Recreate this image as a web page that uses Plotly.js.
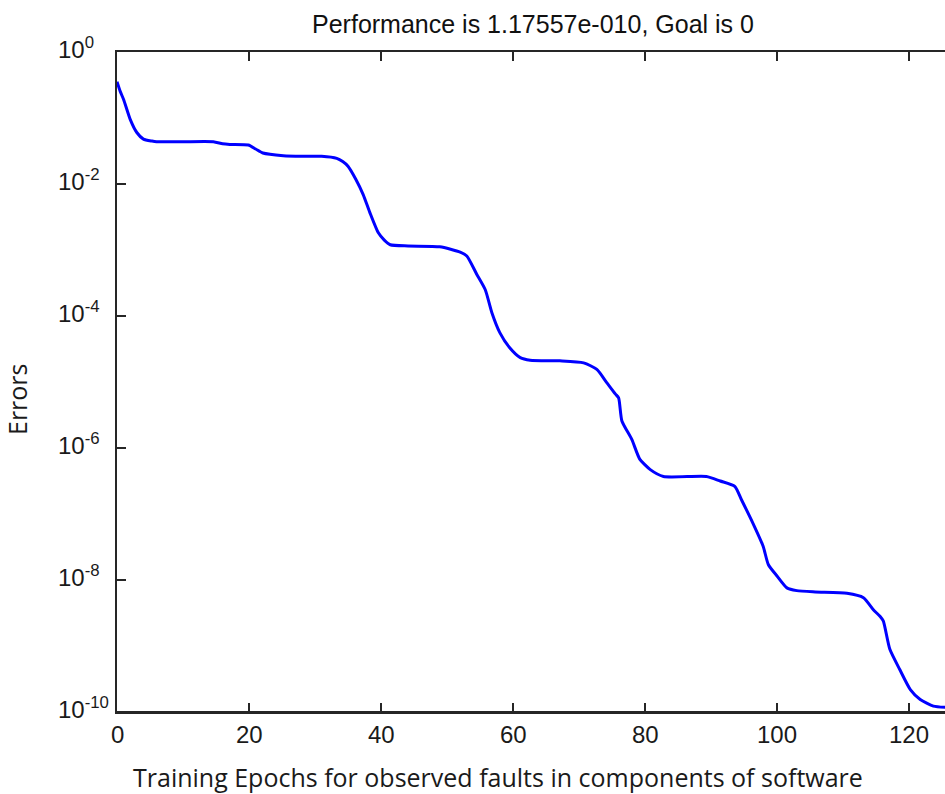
<!DOCTYPE html>
<html>
<head>
<meta charset="utf-8">
<script src="https://cdn.plot.ly/plotly-3.0.1.min.js"></script>
<style>html,body{margin:0;padding:0;background:#fff;}#chart{width:945px;height:794px;}</style>
</head>
<body>
<div id="chart"></div>
<script>
// Training epochs (x)
const epochs = [0, 0.5, 1, 2, 3, 4, 5.3, 6, 10, 14.6, 16, 17.1, 19.9, 21, 22.1, 25.2, 28, 31, 33.3, 34.2, 35, 36.2, 37.3, 38.3, 39.6, 40.5, 41.4, 44.1, 48.9, 52.0, 53.0, 54.5, 55.8, 56.8, 58.0, 59.5, 61.1, 62.6, 67.1, 70.7, 72.7, 74.2, 75.5, 76.0, 76.5, 78.0, 79.2, 80.8, 82.8, 89.3, 91.4, 93.6, 94.6, 96.2, 97.9, 98.7, 100, 101.5, 103, 105.8, 110.6, 113.1, 114.6, 115.6, 116.1, 117.1, 118.6, 120.2, 121.7, 123.7, 125.5];
// Training error (performance) at each epoch
const errors = [0.355, 0.251, 0.191, 0.0955, 0.0603, 0.0479, 0.0447, 0.0437, 0.0437, 0.0437, 0.0407, 0.0398, 0.0389, 0.0339, 0.0295, 0.0269, 0.0263, 0.0263, 0.0245, 0.0219, 0.0186, 0.0117, 0.00692, 0.00372, 0.00182, 0.00141, 0.00120, 0.00115, 0.00112, 9.3e-4, 8.1e-4, 4.3e-4, 2.5e-4, 1.12e-4, 5.6e-5, 3.3e-5, 2.34e-5, 2.14e-5, 2.09e-5, 1.95e-5, 1.55e-5, 9.8e-6, 6.6e-6, 5.75e-6, 2.57e-6, 1.35e-6, 6.8e-7, 4.7e-7, 3.7e-7, 3.7e-7, 3.16e-7, 2.63e-7, 1.66e-7, 7.8e-8, 3.24e-8, 1.70e-8, 1.15e-8, 7.6e-9, 6.9e-9, 6.6e-9, 6.3e-9, 5.4e-9, 3.55e-9, 2.82e-9, 2.40e-9, 8.9e-10, 4.4e-10, 2.19e-10, 1.55e-10, 1.23e-10, 1.17557e-10];
// Axis ticks
const xTickVals = [0, 20, 40, 60, 80, 100, 120];
const xTickText = ['0', '20', '40', '60', '80', '100', '120'];
const yTickVals = [1, 1e-2, 1e-4, 1e-6, 1e-8, 1e-10];
const yTickText = ['10<sup>0</sup>', '10<sup>-2</sup>', '10<sup>-4</sup>', '10<sup>-6</sup>', '10<sup>-8</sup>', '10<sup>-10</sup>'];
const titleText = 'Performance is 1.17557e-010, Goal is 0';
const xTitle = 'Training Epochs for observed faults in components of software';
const yTitle = 'Errors';

const W = 945, H = 794, L = 117, T = 52, B = 82, R = 0;
const PW = W - L, PH = H - T - B;
const axisColor = '#262626';
const tickFont = {family: 'Liberation Sans, Arial, sans-serif', size: 24, color: '#1a1a1a'};
const labelFont = {family: 'Open Sans, Noto Sans, sans-serif', size: 25, color: '#1a1a1a'};

// y tick labels: left-aligned like MATLAB, placed at each tick value on the log axis
const yLabelAnns = yTickVals.map((v, i) => ({
  text: yTickText[i], xref: 'paper', yref: 'y', x: (56 - L) / PW, y: Math.log10(v),
  xanchor: 'left', yanchor: 'middle', yshift: 4, showarrow: false, font: tickFont
}));
// x tick labels, placed at each tick value on the x axis
const xLabelAnns = xTickVals.map((v, i) => ({
  text: xTickText[i], xref: 'x', yref: 'paper', x: v, y: -(734 - (H - B)) / PH,
  xanchor: 'center', yanchor: 'middle', showarrow: false, font: tickFont
}));

Plotly.newPlot('chart', [{
  x: epochs, y: errors, type: 'scatter', mode: 'lines',
  line: {color: '#0000ff', width: 3, shape: 'spline', smoothing: 0.6}, hoverinfo: 'skip'
}], {
  width: W, height: H,
  margin: {l: L, r: R, t: T, b: B, pad: 0},
  paper_bgcolor: '#ffffff', plot_bgcolor: '#ffffff',
  showlegend: false,
  title: {text: titleText, font: {family: 'Liberation Sans, Arial, sans-serif', size: 25, color: '#111'},
          xref: 'container', yref: 'container', x: 533/W, y: 1 - 24/H, xanchor: 'center', yanchor: 'middle'},
  xaxis: {
    range: [0, PW / 6.6], tickvals: xTickVals, showticklabels: false,
    ticks: 'inside', ticklen: 9, tickwidth: 1.5, tickcolor: axisColor,
    showline: true, linecolor: axisColor, linewidth: 2, mirror: 'ticks',
    showgrid: false, zeroline: false
  },
  yaxis: {
    type: 'log', range: [-10, 0], tickvals: yTickVals, showticklabels: false,
    ticks: 'inside', ticklen: 9, tickwidth: 1.5, tickcolor: axisColor,
    showline: true, linecolor: axisColor, linewidth: 2, mirror: false,
    showgrid: false, zeroline: false
  },
  shapes: [
    {type: 'line', xref: 'paper', yref: 'paper', x0: 0, x1: 1, y0: 0, y1: 0, layer: 'above',
     line: {color: axisColor, width: 2}}
  ],
  annotations: yLabelAnns.concat(xLabelAnns, [
    {text: xTitle, xref: 'paper', yref: 'paper', x: (497.5 - L) / PW, y: -(777 - (H - B)) / PH,
     xanchor: 'center', yanchor: 'middle', showarrow: false, font: labelFont},
    {text: yTitle, xref: 'paper', yref: 'paper', x: -(L - 17) / PW, y: 1 - (399 - T) / PH,
     xanchor: 'center', yanchor: 'middle', textangle: -90, showarrow: false, font: labelFont}
  ])
}, {staticPlot: true, displayModeBar: false});
</script>
</body>
</html>
